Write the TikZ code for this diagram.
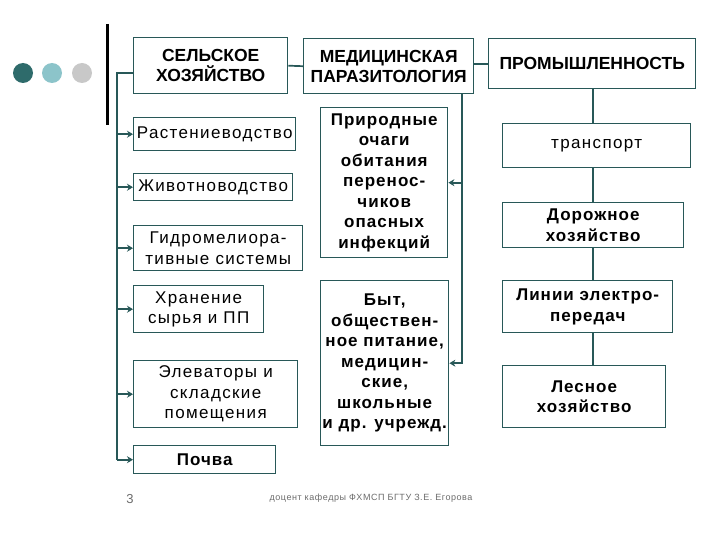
\documentclass[tikz,border=0pt]{standalone}
\usepackage{fontspec}
\setmainfont{Liberation Sans}
\usetikzlibrary{arrows.meta}
\definecolor{edge}{RGB}{40,88,88}
\definecolor{dotA}{RGB}{46,107,107}
\definecolor{dotB}{RGB}{140,196,202}
\definecolor{dotC}{RGB}{200,200,200}
\begin{document}
\begin{tikzpicture}[x=1pt,y=-1pt,
  box/.style={draw=edge, line width=1.4pt, fill=white, anchor=north west, inner sep=0pt, align=center, font=\fontsize{17}{20.5}\selectfont\addfontfeature{LetterSpace=8}},
  bbox/.style={box, font=\bfseries\fontsize{17}{20.5}\selectfont\addfontfeature{LetterSpace=6}},
  hbox/.style={box, font=\bfseries\fontsize{17.5}{20}\selectfont},
  conn/.style={draw=edge, line width=1.7pt},
  arr/.style={conn, -{Stealth[length=6pt,width=7pt]}}]
\useasboundingbox (0,0) rectangle (720,540);
\fill[white] (0,0) rectangle (720,540);
% decoration
\fill[dotA] (23,73) circle (10);
\fill[dotB] (52,73) circle (10);
\fill[dotC] (82,73) circle (10);
\draw[black, line width=3pt] (107,24) -- (107,125);
% headers
\node[hbox, minimum width=154, minimum height=56] (sh) at (133,37) {СЕЛЬСКОЕ\\ХОЗЯЙСТВО};
\node[hbox, minimum width=170, minimum height=55] (mp) at (303,38) {МЕДИЦИНСКАЯ\\ПАРАЗИТОЛОГИЯ};
\node[hbox, minimum width=207, minimum height=50] (pr) at (488,38) {ПРОМЫШЛЕННОСТЬ};
% left column
\node[box, minimum width=162, minimum height=33] (r1) at (133,117) {Растениеводство};
\node[box, minimum width=159, minimum height=27] (r2) at (133,173) {Животноводство};
\node[box, minimum width=169, minimum height=45] (r3) at (133,225) {Гидромелиора-\\тивные системы};
\node[box, minimum width=130, minimum height=47] (r4) at (133,285) {Хранение\\сырья и ПП};
\node[box, minimum width=164, minimum height=67] (r5) at (133,360) {Элеваторы и\\складские\\помещения};
\node[bbox, minimum width=142, minimum height=28] (r6) at (133,445) {Почва};
% middle column
\node[bbox, minimum width=127, minimum height=150] (m1) at (320,107) {Природные\\очаги\\обитания\\перенос-\\чиков\\опасных\\инфекций};
\node[bbox, minimum width=128, minimum height=165] (m2) at (320,280) {Быт,\\обществен-\\ное питание,\\медицин-\\ские,\\школьные\\и др. учрежд.};
% right column
\node[box, minimum width=188, minimum height=44] (p1) at (502,123) {транспорт};
\node[bbox, minimum width=181, minimum height=45] (p2) at (502,202) {Дорожное\\хозяйство};
\node[bbox, minimum width=170, minimum height=52] (p3) at (502,280) {Линии электро-\\передач};
\node[bbox, minimum width=163, minimum height=62] (p4) at (502,365) {Лесное\\хозяйство};
% connectors
\coordinate (a0) at ([yshift=-7pt]sh.west);
\coordinate (sp) at (117,0);
\draw[conn] (a0) -| (sp |- r6.west);
\foreach \n in {r1,r2,r3,r4,r5,r6}
  \draw[arr] (sp |- \n.west) -- (\n.west);
\draw[conn] (sh.east) -- (mp.west);
\draw[conn] (pr.west -| mp.east) -- (pr.west);
\coordinate (mv) at (462,0);
\draw[arr] (mv |- mp.south) |- (m2.east);
\draw[arr] (mv |- m1.east) -- (m1.east);
\coordinate (pv) at (593,0);
\draw[conn] (pv |- pr.south) -- (pv |- p1.north);
\draw[conn] (pv |- p1.south) -- (pv |- p2.north);
\draw[conn] (pv |- p2.south) -- (pv |- p3.north);
\draw[conn] (pv |- p3.south) -- (pv |- p4.north);
% footer
\node[text=gray!85!black, font=\fontsize{13}{15}\selectfont] (pg) at (130,499) {3};
\node[text=gray!85!black, font=\fontsize{9}{11}\selectfont\addfontfeature{LetterSpace=6}] (ft) at (371,498) {доцент кафедры ФХМСП БГТУ З.Е. Егорова};
\end{tikzpicture}
\end{document}
